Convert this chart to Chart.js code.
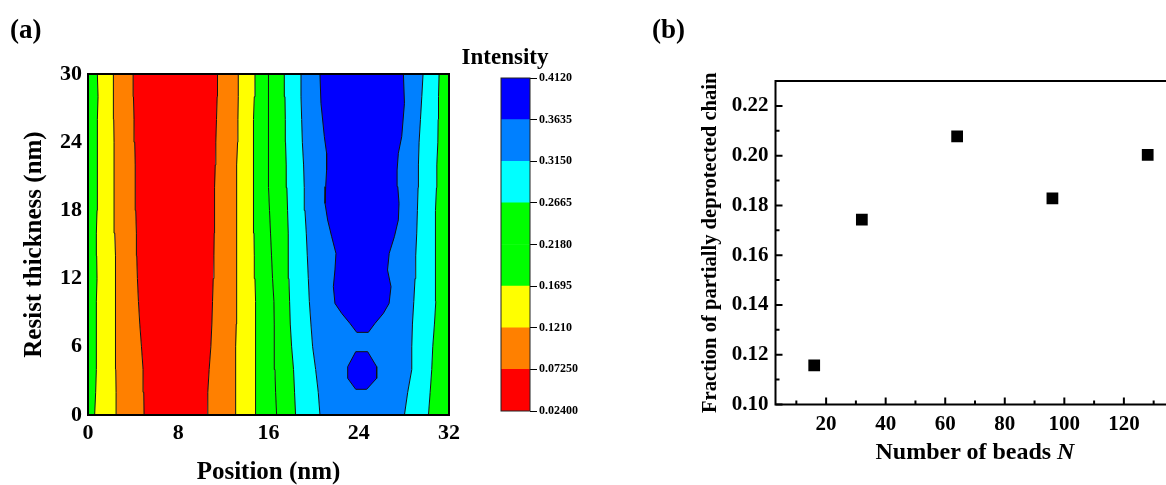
<!DOCTYPE html>
<html>
<head>
<meta charset="utf-8">
<script src="https://cdn.jsdelivr.net/npm/chart.js@4.4.1/dist/chart.umd.min.js"></script>
<style>
  html, body { margin: 0; padding: 0; background: #fff; }
  body { width: 1166px; height: 485px; overflow: hidden; position: relative; }
  canvas { position: absolute; }
  .lbl { position: absolute; font-family: 'Liberation Serif', 'Times New Roman', serif; font-weight: bold; color: #000; white-space: nowrap; }
</style>
</head>
<body>
<canvas id="contour" width="470" height="490" style="left:0;top:0"></canvas>
<canvas id="colorbar" width="100" height="370" style="left:495px;top:60px"></canvas>
<canvas id="beads" width="545" height="485" style="left:640px;top:0"></canvas>

<div class="lbl" style="left:10px;top:14px;font-size:27px;line-height:30px">(a)</div>
<div class="lbl" style="left:652px;top:14px;font-size:27px;line-height:30px">(b)</div>
<div class="lbl" style="left:455px;top:43px;width:100px;text-align:center;font-size:23px;line-height:28px">Intensity</div>
<div class="lbl" style="left:775px;top:436px;width:400px;text-align:center;font-size:24px;line-height:30px">Number of beads <i>N</i></div>

<script>
// (a) contour lines: x position (nm) of each boundary at each thickness level
const thickness = [0, 2, 4, 6, 8, 10, 12, 14, 16, 18, 20, 22, 24, 26, 28, 30];
const edge1  = [0.59, 0.68, 0.74, 0.71, 0.74, 0.77, 0.80, 0.77, 0.74, 0.80, 0.80, 0.83, 0.83, 0.86, 0.89, 0.83];
const edge2  = [2.52, 2.49, 2.46, 2.43, 2.43, 2.43, 2.46, 2.43, 2.37, 2.31, 2.31, 2.31, 2.31, 2.28, 2.25, 2.25];
const edge3  = [4.97, 4.94, 4.88, 4.74, 4.59, 4.47, 4.38, 4.32, 4.29, 4.23, 4.20, 4.17, 4.14, 4.08, 4.03, 4.00];
const edge4  = [10.57, 10.62, 10.74, 10.89, 10.98, 11.04, 11.10, 11.16, 11.19, 11.19, 11.25, 11.28, 11.33, 11.39, 11.45, 11.48];
const edge5  = [13.08, 13.08, 13.08, 13.11, 13.14, 13.17, 13.20, 13.17, 13.17, 13.17, 13.17, 13.20, 13.26, 13.29, 13.32, 13.32];
const edge6  = [14.88, 14.86, 14.86, 14.86, 14.86, 14.83, 14.80, 14.74, 14.71, 14.65, 14.65, 14.68, 14.65, 14.71, 14.74, 14.80];
const edge7  = [16.72, 16.63, 16.57, 16.51, 16.51, 16.48, 16.36, 16.27, 16.18, 16.09, 16.00, 15.98, 15.98, 15.98, 16.00, 16.04];
const edge8  = [18.40, 18.31, 18.22, 18.05, 17.93, 17.87, 17.81, 17.75, 17.75, 17.69, 17.63, 17.57, 17.51, 17.49, 17.46, 17.40];
const edge9  = [20.56, 20.41, 20.18, 19.91, 19.76, 19.62, 19.53, 19.44, 19.35, 19.23, 19.17, 19.11, 19.00, 18.94, 18.88, 18.88];
const edge10 = [28.05, 28.34, 28.70, 28.70, 28.76, 28.88, 28.99, 29.05, 29.14, 29.20, 29.26, 29.29, 29.35, 29.47, 29.59, 29.70];
const edge11 = [30.18, 30.33, 30.47, 30.56, 30.71, 30.83, 30.83, 30.77, 30.77, 30.83, 30.89, 30.92, 31.01, 31.04, 31.07, 31.12];
const edges = [edge1, edge2, edge3, edge4, edge5, edge6, edge7, edge8, edge9, edge10, edge11];

// highest intensity regions (closed outlines)
const coreX = [20.56, 20.65, 20.95, 21.15, 21.15, 21.07, 21.01, 21.24, 21.60, 21.98, 21.89, 21.75, 21.89, 22.49, 23.22, 23.82,
               24.85, 25.44, 26.18, 26.69, 26.86, 26.55, 26.70, 27.16, 27.51, 27.57, 27.46, 27.40, 27.51, 27.81, 28.05, 27.96, 20.56];
const coreY = [30, 27.42, 24.49, 23.02, 21.55, 20.09, 18.62, 17.16, 15.69, 14.22, 12.76, 11.29, 9.82, 8.94, 8.06, 7.27,
               7.27, 8.06, 8.94, 9.82, 11.29, 12.76, 14.22, 15.69, 17.16, 18.62, 20.09, 21.55, 23.02, 24.49, 27.42, 30, 30];
const blobX = [23.73, 24.79, 25.59, 25.59, 24.70, 23.73, 23.02, 23.02, 23.73];
const blobY = [5.57, 5.57, 4.25, 3.23, 2.26, 2.26, 3.23, 4.25, 5.57];

const posTicks = [0, 8, 16, 24, 32];
const thickTicks = [0, 6, 12, 18, 24, 30];

// colour bar
const levels = [0.024, 0.0725, 0.121, 0.1695, 0.218, 0.2665, 0.315, 0.3635, 0.412];
const levelLabels = ['0.02400', '0.07250', '0.1210', '0.1695', '0.2180', '0.2665', '0.3150', '0.3635', '0.4120'];

// (b) scatter
const beads = [16, 32, 64, 96, 128];
const fraction = [0.1157, 0.1743, 0.2077, 0.1828, 0.2003];
const beadTicks = [20, 40, 60, 80, 100, 120];
const beadMinor = [10, 30, 50, 70, 90, 110, 130];
const fracTicks = [0.10, 0.12, 0.14, 0.16, 0.18, 0.20, 0.22];
const fracMinor = [0.11, 0.13, 0.15, 0.17, 0.19, 0.21];

const RED = '#ff0000', ORANGE = '#ff8000', YELLOW = '#ffff00', GREEN = '#00ff00',
      CYAN = '#00ffff', AZURE = '#0080ff', BLUE = '#0000ff';
const bandColors = [GREEN, YELLOW, ORANGE, RED, ORANGE, YELLOW, GREEN, GREEN, CYAN, AZURE, CYAN, GREEN];
const levelColors = [RED, ORANGE, YELLOW, GREEN, GREEN, CYAN, AZURE, BLUE];

Chart.defaults.font.family = "'Liberation Serif', 'Times New Roman', serif";
Chart.defaults.font.weight = 'bold';
Chart.defaults.color = '#000';

function framePlugin(width, color) {
  return {
    id: 'frame',
    afterDatasetsDraw(chart) {
      const {ctx, chartArea: a} = chart;
      ctx.save();
      ctx.strokeStyle = color;
      ctx.lineWidth = width;
      ctx.strokeRect(a.left, a.top, a.right - a.left, a.bottom - a.top);
      ctx.restore();
    }
  };
}

// ---------- (a) contour map ----------
const leftWall = thickness.map(() => 0);
const rightWall = thickness.map(() => 32);
const bounds = [leftWall, ...edges, rightWall];

const contourSets = [];
for (let i = 0; i < bounds.length - 1; i++) {
  const L = bounds[i], R = bounds[i + 1];
  const pts = thickness.map((t, k) => ({x: L[k], y: t}));
  for (let k = thickness.length - 1; k >= 0; k--) pts.push({x: R[k], y: thickness[k]});
  pts.push(pts[0]);
  contourSets.push({
    data: pts, fill: 'shape', backgroundColor: bandColors[i],
    borderColor: 'rgba(0,0,0,0)', borderWidth: 1, order: 3
  });
}
[[coreX, coreY], [blobX, blobY]].forEach(([xs, ys]) => {
  contourSets.push({
    data: xs.map((x, k) => ({x: x, y: ys[k]})), fill: 'shape', backgroundColor: BLUE,
    borderColor: '#111', borderWidth: 1, order: 2
  });
});
edges.forEach(e => {
  contourSets.push({
    data: thickness.map((t, k) => ({x: e[k], y: t})), fill: false,
    borderColor: '#111', borderWidth: 1, order: 1
  });
});

new Chart(document.getElementById('contour'), {
  type: 'line',
  data: { datasets: contourSets },
  options: {
    responsive: false, animation: false, events: [],
    layout: { padding: { left: 0, top: 74, right: 21, bottom: 0 } },
    elements: { point: { radius: 0 }, line: { tension: 0 } },
    plugins: { legend: { display: false }, tooltip: { enabled: false } },
    scales: {
      x: {
        type: 'linear', min: 0, max: 32,
        afterBuildTicks: s => { s.ticks = posTicks.map(v => ({value: v})); },
        afterFit: s => { s.height = 75; },
        grid: { display: false, drawTicks: false },
        border: { display: false },
        ticks: { padding: 5, font: { size: 22 } },
        title: { display: true, text: 'Position (nm)', font: { size: 25 }, padding: { top: 0, bottom: 2.5 } }
      },
      y: {
        type: 'linear', min: 0, max: 30,
        afterBuildTicks: s => { s.ticks = thickTicks.map(v => ({value: v})); },
        afterFit: s => { s.width = 88; },
        grid: { display: false, drawTicks: false },
        border: { display: false },
        ticks: { padding: 6, font: { size: 22 } },
        title: { display: true, text: 'Resist thickness (nm)', font: { size: 25 }, padding: { top: 20, bottom: 0 } }
      }
    }
  },
  plugins: [framePlugin(2, '#000')]
});

// ---------- colour bar ----------
new Chart(document.getElementById('colorbar'), {
  type: 'bar',
  data: {
    labels: [''],
    datasets: levelColors.map((c, i) => ({
      data: [[levels[i], levels[i + 1]]], backgroundColor: c, borderWidth: 0,
      barPercentage: 1, categoryPercentage: 1, grouped: false
    }))
  },
  options: {
    responsive: false, animation: false, events: [],
    layout: { padding: { left: 6, top: 18, right: 0, bottom: 19 } },
    plugins: { legend: { display: false }, tooltip: { enabled: false } },
    scales: {
      x: { display: false },
      y: {
        position: 'right', min: levels[0], max: levels[levels.length - 1],
        afterBuildTicks: s => { s.ticks = levels.map(v => ({value: v})); },
        afterFit: s => { s.width = 65; },
        grid: { drawOnChartArea: false, drawTicks: true, tickLength: 7, color: '#000' },
        border: { display: false },
        ticks: { padding: 2, font: { size: 12 }, callback: (v, i) => levelLabels[i] }
      }
    }
  },
  plugins: [framePlugin(1, '#222')]
});

// ---------- (b) fraction vs beads ----------
const inwardTicks = {
  id: 'inwardTicks',
  afterDraw(chart) {
    const {ctx, chartArea: a, scales: {x, y}} = chart;
    ctx.save();
    ctx.strokeStyle = '#000';
    ctx.lineWidth = 2;
    ctx.beginPath();
    beadTicks.forEach(v => { const p = x.getPixelForValue(v); ctx.moveTo(p, a.bottom); ctx.lineTo(p, a.bottom - 7); });
    beadMinor.forEach(v => { const p = x.getPixelForValue(v); ctx.moveTo(p, a.bottom); ctx.lineTo(p, a.bottom - 4); });
    fracTicks.forEach(v => { const p = y.getPixelForValue(v); ctx.moveTo(a.left, p); ctx.lineTo(a.left + 7, p); });
    fracMinor.forEach(v => { const p = y.getPixelForValue(v); ctx.moveTo(a.left, p); ctx.lineTo(a.left + 4, p); });
    ctx.stroke();
    ctx.restore();
  }
};

new Chart(document.getElementById('beads'), {
  type: 'scatter',
  data: {
    datasets: [{
      data: beads.map((n, i) => ({x: n, y: fraction[i]})),
      pointStyle: 'rect', pointRadius: 8.3, borderWidth: 0,
      backgroundColor: '#000', borderColor: '#000'
    }]
  },
  options: {
    responsive: false, animation: false, events: [],
    layout: { padding: { left: 0, top: 81, right: 10.5, bottom: 0 } },
    plugins: { legend: { display: false }, tooltip: { enabled: false } },
    scales: {
      x: {
        type: 'linear', min: 3, max: 137,
        afterBuildTicks: s => { s.ticks = beadTicks.map(v => ({value: v})); },
        afterFit: s => { s.height = 80.5; },
        grid: { display: false, drawTicks: false },
        border: { display: false },
        ticks: { padding: 7, font: { size: 21 } }
      },
      y: {
        type: 'linear', min: 0.10, max: 0.23,
        afterBuildTicks: s => { s.ticks = fracTicks.map(v => ({value: v})); },
        afterFit: s => { s.width = 135.5; },
        grid: { display: false, drawTicks: false },
        border: { display: false },
        ticks: { padding: 7, font: { size: 21 }, callback: v => v.toFixed(2) },
        title: { display: true, text: 'Fraction of partially deprotected chain', font: { size: 20.6 }, padding: { top: 58, bottom: 0 } }
      }
    }
  },
  plugins: [framePlugin(2, '#000'), inwardTicks]
});
</script>
</body>
</html>
